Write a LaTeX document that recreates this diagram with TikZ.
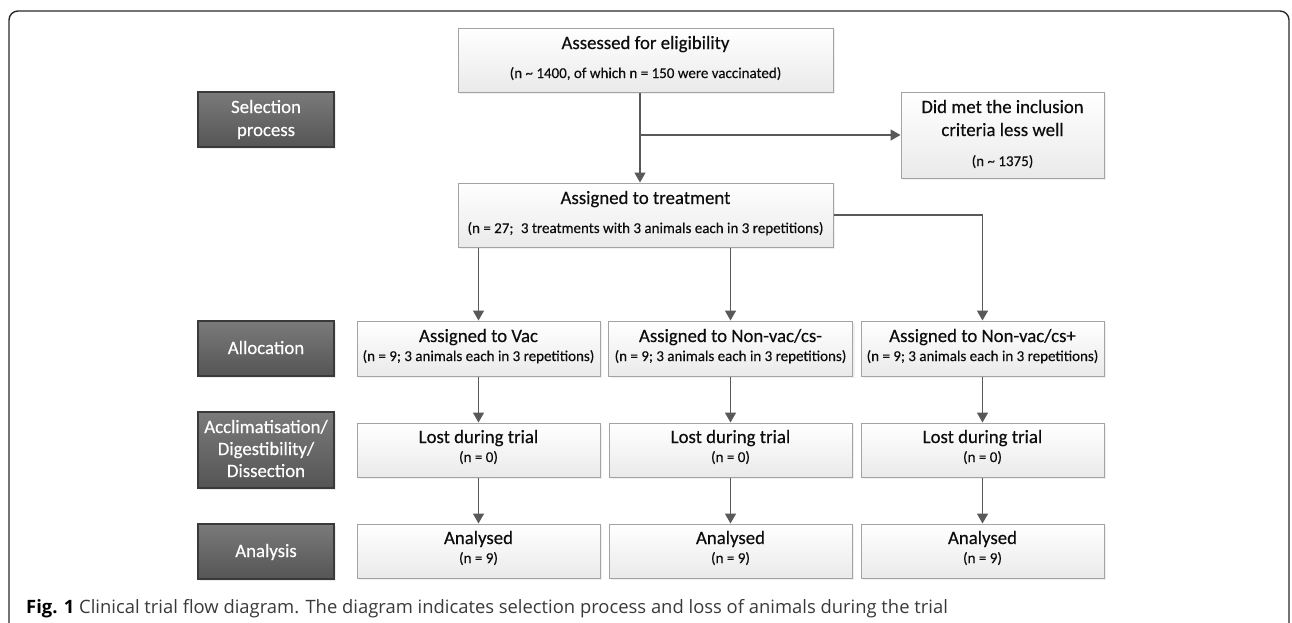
\documentclass[tikz,border=0pt]{standalone}
\usepackage{fontspec}
\setmainfont{Carlito}[FakeBold=0.35]
\newfontfamily\capfont{Open Sans}
\usetikzlibrary{arrows.meta,shadows}
\definecolor{arrgray}{HTML}{595959}
\definecolor{boxline}{HTML}{A3A3A3}
\definecolor{lblline}{HTML}{3A3A3A}
\definecolor{lblT}{HTML}{7A7A7A}
\definecolor{lblB}{HTML}{555555}
\definecolor{boxbot}{HTML}{EAEAEA}
\definecolor{txtcol}{HTML}{0D0D0D}
\definecolor{capcol}{HTML}{3A3A3A}
\definecolor{framecol}{HTML}{2A2A2A}
\begin{document}
\begin{tikzpicture}[x=1pt,y=-1pt,
  wbox/.style={draw=boxline, line width=1pt, top color=white, bottom color=boxbot,
    inner sep=0pt, drop shadow={shadow xshift=2pt, shadow yshift=-2pt, opacity=0.12}},
  lbl/.style={draw=lblline, line width=1.3pt, top color=lblT, bottom color=lblB,
    inner sep=0pt, minimum width=136pt,
    drop shadow={shadow xshift=2pt, shadow yshift=-2pt, opacity=0.15}},
  ttl/.style={anchor=base, inner sep=0pt, text=txtcol, font=\fontsize{18.8}{22}\selectfont},
  sub/.style={anchor=base, inner sep=0pt, text=txtcol, font=\fontsize{15}{18}\selectfont},
  lbltxt/.style={anchor=base, inner sep=0pt, text=white, font=\fontsize{18.8}{22}\selectfont},
  arr/.style={draw=arrgray, line width=1.5pt, -{Triangle[length=10pt,width=11pt]}}
]
\clip (0,0) rectangle (1292,622);
\fill[white] (0,0) rectangle (1292,622);
% frame
\draw[framecol, line width=1.4pt, rounded corners=9pt] (9,660) -- (9,11) -- (1289,11) -- (1289,660);

% left labels
\node[lbl, minimum height=55pt] (selL) at (266,119.5) {};
\node[lbltxt] (selL1) at (266,113) {Selection};
\node[lbltxt] (selL2) at (266,136) {process};
\node[lbl, minimum height=55pt] (allL) at (266,348.5) {};
\node[lbltxt] (allL1) at (266,354) {Allocation};
\node[lbl, minimum height=76pt] (accL) at (266,450) {};
\node[lbltxt] (accL1) at (266,433) {Acclimatisation/};
\node[lbltxt] (accL2) at (266,455) {Digestibility/};
\node[lbltxt] (accL3) at (266,477) {Dissection};
\node[lbl, minimum height=55pt] (anaL) at (266,551.5) {};
\node[lbltxt] (anaL1) at (266,557) {Analysis};

% top boxes
\node[wbox, minimum width=375pt, minimum height=64pt] (assess) at (645.5,60) {};
\node[ttl] (assessT) at (645.5,49) {Assessed for eligibility};
\node[sub] (assessS) at (645.5,78) {(n \textasciitilde{} 1400, of which n = 150 were vaccinated)};

\node[wbox, minimum width=203pt, minimum height=86pt] (did) at (1002.5,135) {};
\node[ttl] (didT1) at (1002.5,113) {Did met the inclusion};
\node[ttl] (didT2) at (1002.5,136) {criteria less well};
\node[sub] (didS) at (1002.5,166) {(n \textasciitilde{} 1375)};

\node[wbox, minimum width=375pt, minimum height=64pt] (assign) at (645.5,215) {};
\node[ttl] (assignT) at (645.5,204) {Assigned to treatment};
\node[sub] (assignS) at (645.5,233) {(n = 27;\enspace 3 treatments with 3 animals each in 3 repetitions)};

% allocation row
\node[wbox, minimum width=243pt, minimum height=55pt] (vac) at (478.5,348.5) {};
\node[ttl] (vacT) at (478.5,342) {Assigned to Vac};
\node[sub] (vacS) at (478.5,361) {(n = 9; 3 animals each in 3 repetitions)};
\node[wbox, minimum width=244pt, minimum height=55pt] (nvm) at (730.5,348.5) {};
\node[ttl] (nvmT) at (730.5,342) {Assigned to Non-vac/cs-};
\node[sub] (nvmS) at (730.5,361) {(n = 9; 3 animals each in 3 repetitions)};
\node[wbox, minimum width=243pt, minimum height=55pt] (nvp) at (982.5,348.5) {};
\node[ttl] (nvpT) at (982.5,342) {Assigned to Non-vac/cs+};
\node[sub] (nvpS) at (982.5,361) {(n = 9; 3 animals each in 3 repetitions)};

% lost row
\node[wbox, minimum width=243pt, minimum height=54pt] (lostA) at (478.5,450) {};
\node[ttl] (lostAT) at (478.5,443) {Lost during trial};
\node[sub] (lostAS) at (478.5,462) {(n = 0)};
\node[wbox, minimum width=243pt, minimum height=54pt] (lostB) at (730.5,450) {};
\node[ttl] (lostBT) at (730.5,443) {Lost during trial};
\node[sub] (lostBS) at (730.5,462) {(n = 0)};
\node[wbox, minimum width=243pt, minimum height=54pt] (lostC) at (982.5,450) {};
\node[ttl] (lostCT) at (982.5,443) {Lost during trial};
\node[sub] (lostCS) at (982.5,462) {(n = 0)};

% analysed row
\node[wbox, minimum width=243pt, minimum height=54pt] (anA) at (478.5,551) {};
\node[ttl] (anAT) at (478.5,544) {Analysed};
\node[sub] (anAS) at (478.5,563) {(n = 9)};
\node[wbox, minimum width=243pt, minimum height=54pt] (anB) at (730.5,551) {};
\node[ttl] (anBT) at (730.5,544) {Analysed};
\node[sub] (anBS) at (730.5,563) {(n = 9)};
\node[wbox, minimum width=243pt, minimum height=54pt] (anC) at (982.5,551) {};
\node[ttl] (anCT) at (982.5,544) {Analysed};
\node[sub] (anCS) at (982.5,563) {(n = 9)};

% connectors
\coordinate (ax) at (640,0);
\draw[arr] (assess.south -| ax) -- (assign.north -| ax);
\draw[arr] (ax |- did.west) -- (did.west);
\draw[arr] (assign.south -| vac.north) -- (vac.north);
\draw[arr] (assign.south -| nvm.north) -- (nvm.north);
\draw[arr] (assign.east) -| (nvp.north);
\draw[arr] (vac.south) -- (lostA.north);
\draw[arr] (nvm.south) -- (lostB.north);
\draw[arr] (nvp.south) -- (lostC.north);
\draw[arr] (lostA.south) -- (anA.north);
\draw[arr] (lostB.south) -- (anB.north);
\draw[arr] (lostC.south) -- (anC.north);

% caption
\node[anchor=base west, inner sep=0pt, text=capcol, font=\capfont\fontsize{18.4}{21}\selectfont] (cap) at (26,613)
  {\textbf{\color{black}Fig. 1} Clinical trial flow diagram. The diagram indicates selection process and loss of animals during the trial};
\end{tikzpicture}
\end{document}
